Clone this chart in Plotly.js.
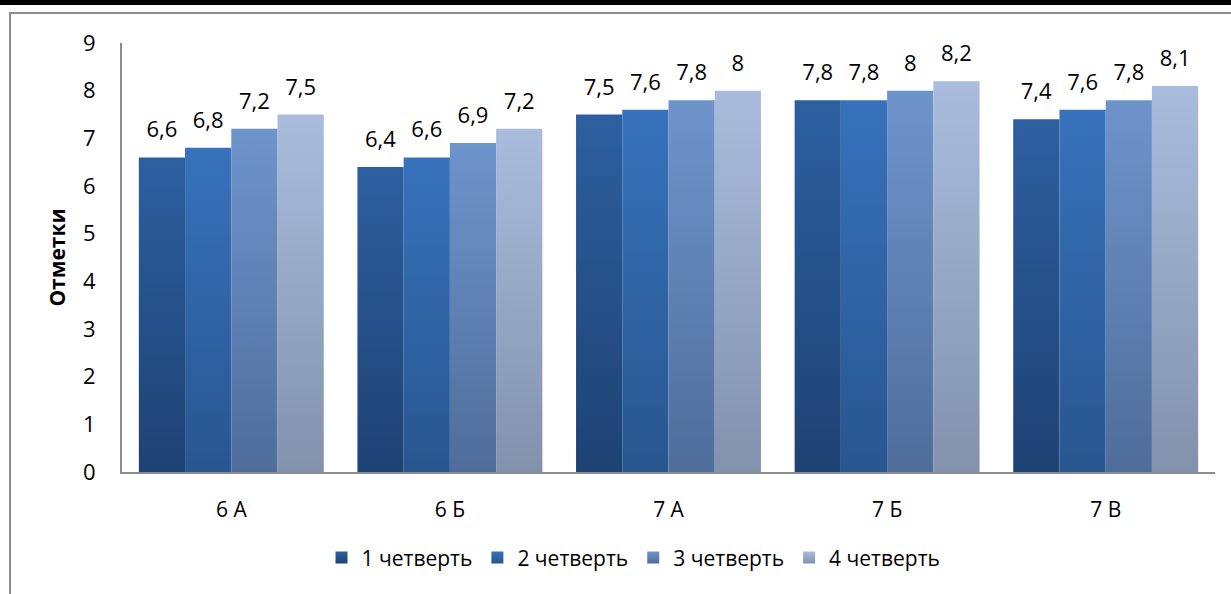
<!DOCTYPE html>
<html>
<head>
<meta charset="utf-8">
<script src="https://cdn.plot.ly/plotly-3.0.1.min.js"></script>
<style>
  html, body { margin:0; padding:0; background:#fff; overflow:hidden; }
  #wrap { position:relative; width:1231px; height:594px; overflow:hidden; }
  #topbar { position:absolute; left:0; top:0; width:1231px; height:5px; background:#000; }
  #frame { position:absolute; left:9px; top:12px; width:1400px; height:800px; border:2px solid #8c8c8c; box-sizing:border-box; }
  #chart { position:absolute; left:0; top:0; width:1231px; height:594px; }
</style>
</head>
<body>
<div id="wrap">
  <div id="topbar"></div>
  <div id="frame"></div>
  <div id="chart"></div>
</div>
<script>
const categories = ['6 А', '6 Б', '7 А', '7 Б', '7 В'];
const seriesNames = ['1 четверть', '2 четверть', '3 четверть', '4 четверть'];
const q1 = [6.6, 6.4, 7.5, 7.8, 7.4];
const q2 = [6.8, 6.6, 7.6, 7.8, 7.6];
const q3 = [7.2, 6.9, 7.8, 8.0, 7.8];
const q4 = [7.5, 7.2, 8.0, 8.2, 8.1];
const yTicks = [0, 1, 2, 3, 4, 5, 6, 7, 8, 9];

const series = [q1, q2, q3, q4];
const topColors = ['#2D5F9F', '#3772BC', '#6E94CC', '#AABCDD'];
const bottomColors = ['#1E4274', '#28568F', '#4F6D9B', '#8292AD'];
const midColors = ['#275390', '#3066A8', '#6082B5', '#98A9C7'];

const fontFam = 'Open Sans, Noto Sans, DejaVu Sans, sans-serif';
const labelLift = 11;

const traces = series.map((vals, i) => ({
  type: 'bar',
  name: seriesNames[i],
  x: categories,
  y: vals,
  text: vals.map(v => String(v).replace('.', ',')),
  textposition: 'outside',
  cliponaxis: false,
  textfont: { family: fontFam, size: 22, color: '#000' },
  marker: { color: midColors[i], line: { width: 0 } },
  hoverinfo: 'none'
}));

const layout = {
  width: 1231,
  height: 594,
  paper_bgcolor: 'rgba(0,0,0,0)',
  plot_bgcolor: 'rgba(0,0,0,0)',
  margin: { l: 122, r: 16, t: 43, b: 122 },
  barmode: 'group',
  bargap: 0.154,
  bargroupgap: 0,
  showlegend: true,
  font: { family: fontFam, color: '#000' },
  xaxis: {
    showline: true,
    linecolor: '#8c8c8c',
    linewidth: 2,
    ticks: '',
    showgrid: false,
    zeroline: false,
    tickfont: { family: fontFam, size: 21, color: '#000' },
    ticklabelstandoff: 18
  },
  yaxis: {
    range: [0, 9],
    tickvals: yTicks,
    ticktext: yTicks.map(String),
    showline: true,
    linecolor: '#8c8c8c',
    linewidth: 2,
    ticks: '',
    showgrid: false,
    zeroline: false,
    tickfont: { family: fontFam, size: 22, color: '#000' },
    ticklabelstandoff: 20,
    title: { text: '<b>Отметки</b>', font: { family: fontFam, size: 21, color: '#000' }, standoff: 12 }
  },
  legend: {
    orientation: 'h',
    x: 0.468,
    xanchor: 'center',
    y: -0.2,
    yanchor: 'middle',
    font: { family: fontFam, size: 21, color: '#000' },
    itemwidth: 30,
    traceorder: 'normal'
  }
};

function applyGradients() {
  const svg = document.querySelector('#chart .main-svg');
  if (!svg) return;
  let defs = svg.querySelector('defs');
  if (!defs) { defs = document.createElementNS('http://www.w3.org/2000/svg', 'defs'); svg.insertBefore(defs, svg.firstChild); }
  topColors.forEach((c, i) => {
    const id = 'barGrad' + i;
    if (!defs.querySelector('#' + id)) {
      const g = document.createElementNS('http://www.w3.org/2000/svg', 'linearGradient');
      g.setAttribute('id', id);
      g.setAttribute('x1', '0'); g.setAttribute('y1', '0');
      g.setAttribute('x2', '0'); g.setAttribute('y2', '1');
      const s1 = document.createElementNS('http://www.w3.org/2000/svg', 'stop');
      s1.setAttribute('offset', '0'); s1.setAttribute('stop-color', c);
      const s2 = document.createElementNS('http://www.w3.org/2000/svg', 'stop');
      s2.setAttribute('offset', '1'); s2.setAttribute('stop-color', bottomColors[i]);
      g.appendChild(s1); g.appendChild(s2);
      defs.appendChild(g);
    }
  });
  document.querySelectorAll('#chart .barlayer .trace').forEach((tr, i) => {
    tr.querySelectorAll('.point path').forEach(p => { p.style.fill = 'url(#barGrad' + i + ')'; });
  });
  document.querySelectorAll('#chart .legend .traces').forEach((tr, i) => {
    tr.querySelectorAll('.legendpoints path').forEach(p => { p.style.fill = 'url(#barGrad' + i + ')'; });
  });
  document.querySelectorAll('#chart .barlayer .bartext').forEach(t => {
    if (t.dataset.lifted) return;
    t.dataset.lifted = '1';
    t.setAttribute('transform', 'translate(0,' + (-labelLift) + ') ' + (t.getAttribute('transform') || ''));
  });
}

Plotly.newPlot('chart', traces, layout, { displayModeBar: false, staticPlot: true }).then(applyGradients);
</script>
</body>
</html>
